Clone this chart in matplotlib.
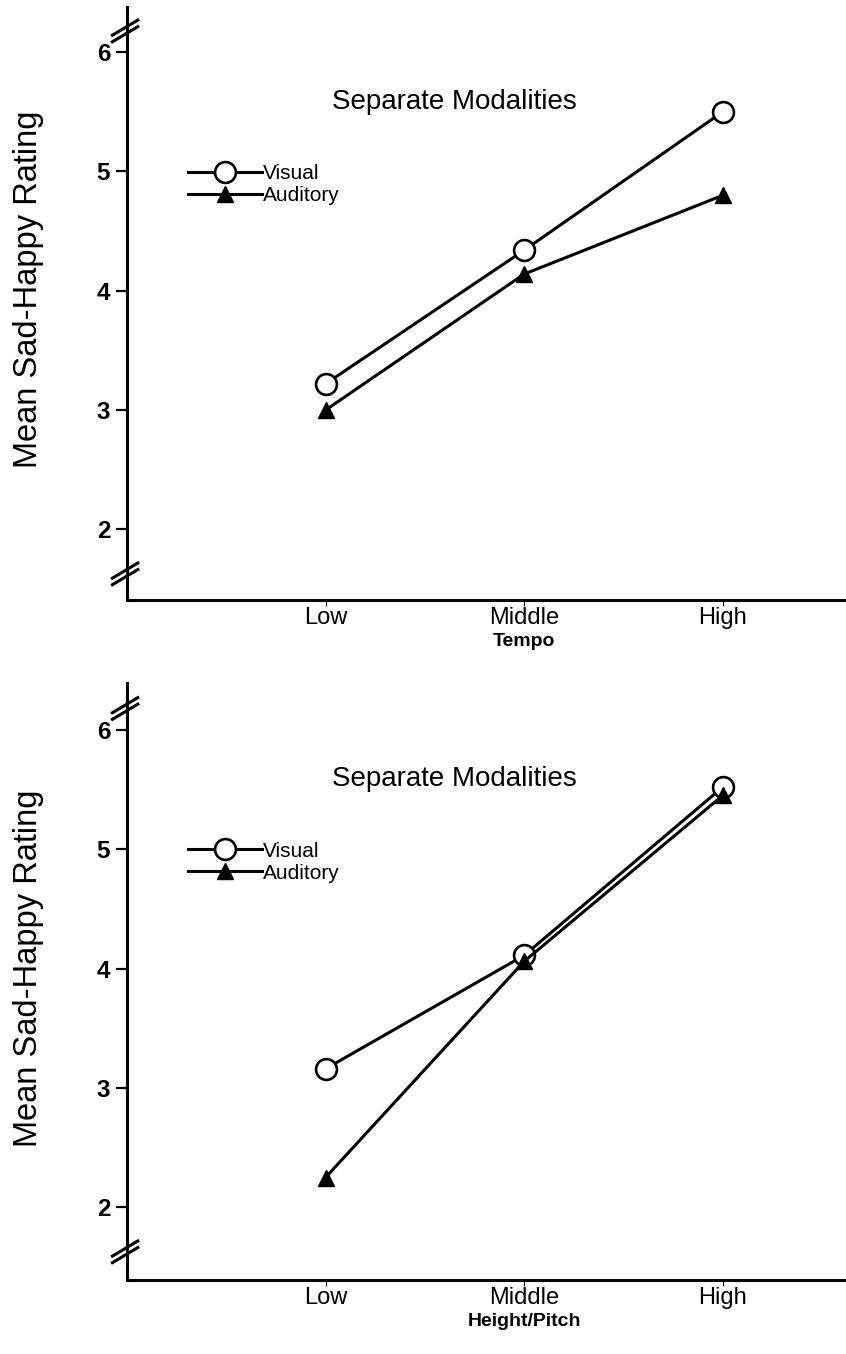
import matplotlib
matplotlib.use("Agg")
import matplotlib.pyplot as plt
from matplotlib.transforms import blended_transform_factory

plt.rcParams['font.family'] = ['Liberation Sans', 'DejaVu Sans']

categories = ["Low", "Middle", "High"]
yticks = [2, 3, 4, 5, 6]

tempo_visual = [3.22, 4.34, 5.50]
tempo_auditory = [3.00, 4.14, 4.80]

pitch_visual = [3.16, 4.11, 5.52]
pitch_auditory = [2.25, 4.06, 5.45]

panels = [
    dict(visual=tempo_visual, auditory=tempo_auditory, xlabel="Tempo",
         rect=[0.150, 0.557, 0.850, 0.438], ylim=(1.41, 6.38)),
    dict(visual=pitch_visual, auditory=pitch_auditory, xlabel="Height/Pitch",
         rect=[0.150, 0.0545, 0.850, 0.441], ylim=(1.39, 6.39)),
]

fig = plt.figure(figsize=(8.46, 13.54), dpi=100)

XLIM = (-1.0, 2.62)

def add_break(ax, yval):
    tr = blended_transform_factory(ax.transAxes, ax.transData)
    for off in (0.0, 0.055):
        ax.plot([-0.022, 0.017], [yval - 0.07 + off, yval + 0.07 + off],
                transform=tr, color='black', lw=2.2, clip_on=False,
                solid_capstyle='butt', zorder=5)

for p in panels:
    ax = fig.add_axes(p["rect"])
    x = list(range(len(categories)))
    ax.plot(x, p["visual"], color='black', lw=2.2, marker='o', markersize=15,
            markerfacecolor='white', markeredgecolor='black', markeredgewidth=1.9,
            label='Visual', zorder=3)
    ax.plot(x, p["auditory"], color='black', lw=2.2, marker='^', markersize=11,
            markerfacecolor='black', markeredgecolor='black',
            label='Auditory', zorder=4)
    ax.set_xlim(*XLIM)
    ax.set_ylim(*p["ylim"])
    ax.set_xticks(x)
    ax.set_xticklabels(categories, fontsize=17)
    ax.set_yticks(yticks)
    ax.set_yticklabels([str(v) for v in yticks], fontsize=17.5, fontweight='bold')
    ax.tick_params(axis='y', direction='out', length=8, width=1.6, pad=4)
    ax.tick_params(axis='x', direction='out', length=4, width=0.8, pad=1)
    for s in ('top', 'right'):
        ax.spines[s].set_visible(False)
    for s in ('left', 'bottom'):
        ax.spines[s].set_linewidth(2.2)
    ax.set_xlabel(p["xlabel"], fontsize=14, fontweight='bold', labelpad=3)
    ax.xaxis.label.set_x((1 - XLIM[0]) / (XLIM[1] - XLIM[0]))
    ax.set_ylabel("Mean Sad-Happy Rating", fontsize=23.5, labelpad=38)
    ax.yaxis.label.set_y(0.523)
    ax.text(0.456, 0.84, "Separate Modalities", transform=ax.transAxes,
            fontsize=20, ha='center', va='center')
    leg = ax.legend(loc='center left', bbox_to_anchor=(0.085, 0.70),
                    frameon=False, fontsize=15, handlelength=3.55,
                    handletextpad=0.05, labelspacing=0.15, borderpad=0,
                    borderaxespad=0)
    add_break(ax, 6.15)
    add_break(ax, 1.60)

fig.savefig("out.png", dpi=100)
